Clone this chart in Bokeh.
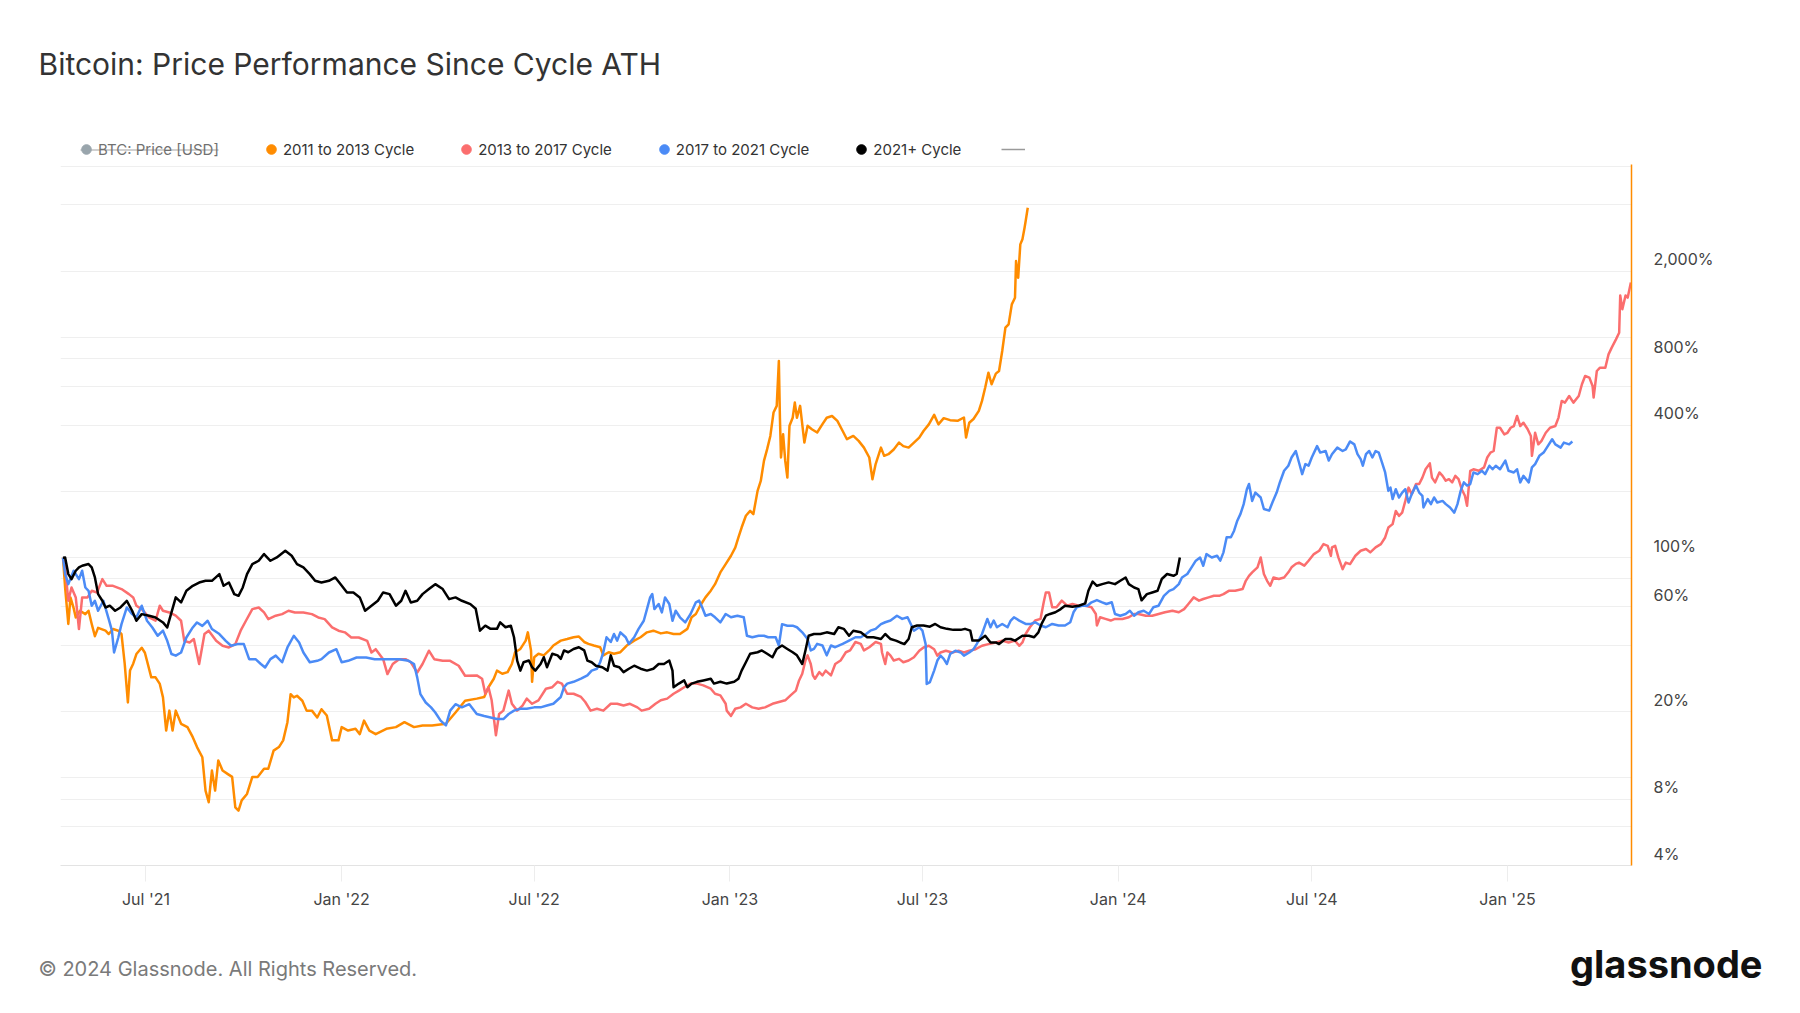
import datetime as dt
from bokeh.plotting import figure
from bokeh.layouts import column
from bokeh.models import (Range1d, FixedTicker, CustomJSTickFormatter, DatetimeTickFormatter,
                          Legend, LegendItem)
from bokeh.core.properties import value
from bokeh.embed import file_html
from bokeh.resources import INLINE

# ---------------- data ----------------
ATH_DATE = dt.datetime(2021, 4, 14)   # start of the 2021+ cycle; x axis = days since each cycle's ATH

orange_days = [0, 2, 5, 7, 10, 12, 16, 21, 24, 27, 30, 33, 40, 43, 47, 52, 55, 58, 61, 63, 66, 69, 74, 77, 83, 87, 91, 94, 97, 100, 103, 106, 111, 117, 122, 126, 131, 134, 137, 140, 143, 146, 150, 155, 159, 162, 165, 168, 173, 178, 183, 189, 193, 198, 203, 207, 211, 214, 217, 220, 225, 229, 234, 239, 243, 248, 253, 259, 262, 268, 275, 279, 283, 288, 294, 304, 313, 321, 330, 338, 347, 360, 369, 378, 389, 396, 400, 405, 408, 413, 418, 422, 425, 430, 435, 437, 440, 441, 443, 447, 452, 457, 461, 468, 474, 480, 485, 490, 494, 499, 505, 508, 513, 518, 524, 530, 537, 543, 549, 555, 562, 568, 574, 580, 587, 591, 595, 599, 604, 609, 613, 618, 623, 628, 632, 635, 638, 642, 646, 649, 653, 656, 659, 662, 665, 668, 671, 673, 674, 675, 677, 679, 681, 683, 686, 688, 690, 693, 697, 700, 704, 709, 714, 718, 723, 728, 733, 737, 743, 748, 753, 758, 761, 764, 769, 772, 776, 781, 786, 790, 795, 800, 805, 809, 814, 819, 823, 828, 834, 841, 847, 849, 852, 856, 861, 864, 867, 870, 873, 877, 880, 883, 886, 889, 892, 895, 896, 898, 900, 902, 904, 905, 907]
orange_pct = [100, 73, 50, 66, 59, 53.5, 57.4, 55.4, 57.4, 50, 44, 48, 46.6, 45, 47.4, 46.6, 45, 33, 22, 30.7, 33, 36.5, 39, 37, 28.6, 28.6, 26.7, 23.2, 16.4, 20.2, 16.4, 20.2, 17.6, 17, 15.3, 13.8, 12.4, 8.75, 7.75, 10.8, 8.75, 12, 10.8, 10.4, 10.1, 7.35, 7.1, 7.9, 8.45, 10.1, 10.1, 11, 11, 13.3, 13.8, 14.8, 17.9, 24, 23.2, 23.6, 22.4, 20.2, 20.2, 18.8, 20.5, 19.2, 14.8, 14.8, 17, 16.4, 16.7, 15.8, 18.2, 16.4, 15.8, 16.7, 17, 17.9, 17, 17.3, 17.3, 17.6, 19.8, 22.4, 22.9, 23.3, 25.8, 28.2, 30.7, 29.7, 30.2, 32.9, 37.2, 38.5, 42, 45.8, 37.9, 27.3, 35.3, 36.6, 36, 37.9, 39.9, 42, 42.7, 43.5, 43.8, 41.4, 40.6, 39.9, 39.2, 36, 37.2, 36.6, 37.2, 39.9, 42, 43.5, 45.8, 46.6, 45.3, 45.8, 45, 45, 47.5, 53.6, 55.5, 60.5, 66, 70.8, 75.8, 85.7, 93.5, 102, 111, 123.5, 137, 155, 163, 157.5, 201, 223, 275, 311, 357, 456, 489, 782, 432, 285, 363, 275, 231, 397, 432, 506, 432, 489, 333, 397, 383, 370, 404, 432, 440, 418, 376, 345, 357, 339, 316, 285, 227, 266, 316, 290, 295, 310, 333, 321, 316, 333, 351, 376, 403, 445, 403, 430, 421, 418, 433, 351, 410, 426, 464, 515, 592, 692, 613, 685, 704, 868, 1108, 1147, 1413, 1515, 2223, 1867, 2646, 2790, 3150, 3370, 3880]

red_days = [0, 2, 5, 8, 12, 15, 18, 23, 27, 32, 37, 41, 47, 55, 62, 66, 69, 74, 81, 87, 91, 94, 100, 106, 111, 114, 119, 123, 128, 133, 137, 144, 150, 156, 162, 167, 172, 178, 184, 189, 193, 200, 206, 212, 218, 226, 234, 240, 246, 253, 259, 265, 271, 278, 286, 290, 294, 301, 305, 310, 316, 322, 327, 333, 338, 344, 349, 357, 364, 372, 378, 389, 394, 397, 400, 403, 405, 407, 410, 414, 419, 422, 427, 432, 436, 441, 447, 454, 460, 465, 469, 474, 480, 487, 491, 496, 502, 508, 515, 521, 527, 533, 540, 544, 551, 557, 562, 568, 574, 579, 584, 590, 596, 602, 609, 613, 618, 623, 624, 628, 632, 637, 642, 648, 654, 660, 667, 673, 679, 684, 689, 692, 695, 698, 700, 703, 705, 707, 711, 714, 717, 722, 726, 731, 736, 740, 745, 750, 753, 758, 764, 769, 770, 773, 775, 778, 781, 786, 790, 795, 800, 805, 809, 814, 819, 822, 825, 830, 836, 842, 847, 852, 858, 864, 870, 877, 883, 889, 895, 899, 902, 905, 909, 914, 919, 922, 924, 927, 930, 934, 939, 944, 949, 955, 961, 967, 971, 972, 975, 980, 985, 989, 996, 1002, 1007, 1011, 1018, 1024, 1030, 1036, 1043, 1049, 1054, 1058, 1063, 1068, 1072, 1077, 1082, 1087, 1091, 1096, 1102, 1109, 1112, 1115, 1118, 1123, 1126, 1129, 1132, 1135, 1138, 1143, 1148, 1152, 1155, 1159, 1162, 1167, 1171, 1176, 1181, 1185, 1189, 1192, 1193, 1196, 1199, 1203, 1206, 1210, 1215, 1220, 1225, 1229, 1234, 1239, 1243, 1246, 1250, 1253, 1256, 1259, 1262, 1265, 1268, 1272, 1275, 1278, 1281, 1285, 1287, 1290, 1294, 1297, 1300, 1303, 1306, 1309, 1312, 1315, 1318, 1320, 1323, 1326, 1331, 1336, 1339, 1342, 1345, 1348, 1351, 1355, 1358, 1361, 1364, 1367, 1370, 1373, 1377, 1380, 1381, 1384, 1387, 1390, 1394, 1398, 1403, 1406, 1409, 1412, 1416, 1420, 1425, 1428, 1431, 1435, 1438, 1439, 1442, 1445, 1450, 1453, 1456, 1460, 1463, 1464, 1466, 1469, 1471, 1474]
red_pct = [100, 90.3, 63.7, 73.2, 66, 47.4, 66, 66, 70.7, 69.5, 79.9, 74.5, 74.5, 72, 68.3, 66, 60.5, 58.4, 53.5, 51.7, 60.5, 57.4, 56.4, 54.5, 51.7, 41.9, 41.2, 42.7, 32.9, 45, 46.6, 41.9, 39.8, 39.1, 40.5, 46.6, 51.7, 58.4, 59.4, 56.4, 52.6, 54.5, 55.4, 57.4, 56.4, 56.4, 55.4, 53.5, 52.6, 48.2, 46.6, 45.8, 43.4, 43.4, 41.9, 37.1, 38.4, 34.6, 29.6, 32.9, 34.6, 34.6, 33.5, 30.1, 32.9, 37.8, 34.6, 34, 34, 32.3, 29.1, 29.2, 28.2, 24.1, 25.8, 22.5, 18.8, 15.6, 19.5, 20.2, 24.9, 21.7, 20.2, 21.3, 22.9, 21.7, 22.5, 25.4, 25.8, 27.3, 26.8, 24.1, 24.1, 23.3, 22.1, 20.2, 20.6, 20.2, 21.7, 21.7, 21.3, 21.7, 20.9, 20.2, 20.6, 21.7, 22.5, 22.9, 24.1, 24.9, 25.8, 26.8, 26.8, 26.3, 25.4, 24.1, 23.7, 21.7, 20.2, 19.1, 20.6, 20.9, 21.7, 20.9, 20.6, 20.9, 21.7, 22.1, 22.5, 23.7, 24.9, 27.7, 29.7, 34.1, 36, 32.9, 29.2, 28.2, 30.2, 29.2, 30.7, 29.2, 32.9, 34.1, 37.2, 37.9, 41.4, 40.6, 37.9, 39.2, 41.4, 40.6, 37.1, 32.9, 37.1, 35.9, 34.1, 34.7, 33.5, 34.1, 35.3, 37.8, 39.1, 39.8, 38.4, 35.9, 37.1, 37.8, 37.1, 37.8, 37.1, 37.8, 38.4, 39.8, 40.5, 41.2, 42, 41.2, 42, 39.8, 41.2, 45, 48.3, 51.8, 52.7, 62.7, 69.5, 69.5, 59.5, 59.5, 63.8, 60.5, 61.6, 60.5, 60.5, 59.5, 55.5, 49.2, 53.6, 52.7, 51.8, 52.7, 52.7, 53.6, 55.5, 55.5, 54.5, 54.5, 55.5, 56.5, 57.4, 56.5, 58.4, 61.6, 66, 63.8, 64.9, 66, 67.1, 67.1, 68.3, 70.7, 70.7, 72, 78.5, 82.7, 85.8, 90.4, 100.2, 84.3, 78.5, 74.5, 81.3, 80, 81.3, 85.8, 90.4, 93.7, 95, 92, 96.8, 103.8, 107.5, 115.2, 113.2, 102, 111.3, 113.2, 100.3, 88.7, 95, 93.5, 102, 107.5, 109.4, 105.7, 111.3, 115.2, 123.5, 137, 142, 163, 154.7, 160.2, 181, 208, 194.2, 216, 216, 231, 252, 268, 231, 219.7, 243.7, 235.2, 223.5, 227.2, 219.7, 235.2, 227.2, 204.5, 191, 172, 248, 252, 248, 257, 285, 300, 305, 389, 389, 363, 369, 389, 396, 440, 396, 410, 383, 357, 290, 369, 327, 339, 369, 389, 396, 432.5, 515, 506, 542, 506, 542, 613, 668, 657, 602, 533, 704, 729, 729, 838, 899, 980, 1050, 1551, 1344, 1551, 1516, 1777]

blue_days = [0, 2, 5, 10, 15, 18, 21, 24, 27, 30, 33, 38, 43, 46, 48, 52, 55, 60, 65, 69, 74, 79, 84, 89, 94, 98, 102, 106, 111, 116, 122, 126, 131, 136, 140, 147, 153, 158, 164, 170, 175, 181, 186, 190, 195, 200, 206, 211, 217, 222, 226, 232, 239, 243, 250, 257, 262, 268, 276, 285, 293, 299, 307, 316, 325, 330, 333, 336, 341, 346, 350, 355, 360, 364, 369, 375, 382, 389, 396, 402, 408, 414, 419, 424, 430, 436, 443, 449, 455, 461, 468, 471, 474, 480, 487, 493, 497, 502, 505, 508, 511, 515, 518, 521, 524, 529, 532, 537, 541, 546, 549, 552, 554, 556, 560, 563, 566, 570, 573, 576, 580, 585, 590, 595, 598, 601, 604, 609, 613, 618, 623, 628, 634, 640, 643, 648, 654, 659, 663, 670, 673, 676, 681, 686, 690, 695, 700, 703, 706, 709, 714, 718, 722, 726, 733, 739, 745, 750, 755, 759, 764, 769, 773, 778, 784, 789, 794, 797, 800, 805, 808, 811, 812, 815, 819, 822, 825, 828, 831, 834, 839, 844, 847, 852, 856, 859, 864, 869, 872, 875, 878, 883, 888, 891, 894, 899, 905, 910, 914, 919, 924, 930, 936, 942, 947, 950, 953, 958, 963, 967, 972, 977, 981, 986, 989, 994, 999, 1003, 1007, 1011, 1016, 1021, 1025, 1030, 1035, 1040, 1044, 1049, 1052, 1057, 1061, 1065, 1069, 1072, 1075, 1080, 1085, 1088, 1091, 1094, 1098, 1101, 1104, 1107, 1110, 1113, 1115, 1118, 1121, 1126, 1129, 1134, 1137, 1141, 1144, 1148, 1152, 1155, 1159, 1162, 1165, 1168, 1171, 1174, 1179, 1182, 1187, 1190, 1193, 1198, 1203, 1206, 1210, 1214, 1217, 1220, 1222, 1225, 1228, 1231, 1234, 1237, 1240, 1243, 1246, 1248, 1250, 1253, 1256, 1259, 1262, 1265, 1268, 1272, 1275, 1278, 1279, 1283, 1286, 1289, 1292, 1297, 1300, 1304, 1308, 1311, 1314, 1317, 1320, 1323, 1326, 1330, 1334, 1337, 1341, 1344, 1347, 1351, 1356, 1359, 1364, 1367, 1370, 1373, 1378, 1381, 1384, 1388, 1392, 1395, 1400, 1403, 1408, 1411, 1416, 1419]
blue_pct = [100, 84.2, 75.8, 87.2, 79.9, 87.2, 73.2, 70.7, 60.5, 63.7, 57.4, 63.7, 52.6, 46.6, 37.1, 43.4, 49.9, 59.4, 55.4, 53.5, 60.5, 51.7, 48.2, 44.2, 46.6, 41.9, 36.5, 35.9, 37.1, 43.4, 48.2, 50.8, 49, 51.7, 47.4, 45, 41.9, 39.8, 40.5, 40.5, 34.6, 34.6, 32.9, 31.7, 34.6, 35.9, 33.5, 39.1, 44.2, 41.2, 37.1, 33.5, 34, 34.6, 37.1, 38.4, 33.5, 34, 35.2, 35.2, 34.6, 34.6, 34.6, 34.6, 34, 32.9, 28.6, 24, 22, 20.9, 19.8, 18.2, 17.3, 20.2, 21.6, 20.9, 21.6, 19.5, 19.1, 18.8, 18.5, 18.5, 19.5, 20.2, 20.6, 20.6, 20.9, 20.9, 21.3, 21.7, 23.3, 25.8, 26.8, 27.3, 28.2, 29.2, 30.7, 31.3, 33.5, 37.2, 43.5, 41.4, 45, 42, 45.8, 43.5, 40.6, 43.5, 47.4, 51.7, 58.4, 66, 68.4, 58.4, 61.6, 56.4, 66, 61.6, 51.7, 57.4, 53.6, 50.8, 55.5, 62.7, 63.8, 59.4, 54.5, 55.5, 53.6, 50.8, 55.5, 53.6, 54.5, 53.6, 44.2, 43.5, 44.2, 44.2, 43.5, 43.5, 39.9, 49.9, 49.1, 49.1, 48.3, 45.8, 42.7, 37.9, 38.5, 40.6, 39.9, 36, 39.9, 39.2, 40.6, 42, 43.5, 43.5, 45, 46.6, 47.5, 49.9, 50.9, 51.8, 54.5, 52.7, 53.6, 50, 46.6, 48.3, 46.6, 40.5, 26.7, 27.2, 30.7, 34.1, 35.9, 34.7, 32.9, 36.5, 37.8, 37.1, 35.9, 37.1, 38.4, 40.5, 45, 52.7, 48.3, 51.8, 48.3, 50, 48.3, 51.8, 53.6, 51.8, 50, 50, 50.9, 49.2, 48.3, 50, 49.2, 49.2, 50.9, 56.5, 59.5, 60.5, 60.5, 62.7, 64.2, 62.7, 61.6, 62.7, 55.5, 54.5, 55.5, 57.4, 54.5, 56.5, 57.4, 55.5, 59.5, 60.5, 67.1, 70.7, 72, 75.8, 81.3, 84.3, 90.4, 96.9, 100.2, 91.9, 103.8, 100.2, 102, 96.9, 105.7, 123.8, 123.8, 132.5, 147.2, 158, 175, 204.5, 216, 181, 197.5, 187.5, 166.3, 163.5, 178, 197.5, 219.5, 248, 261.5, 285, 305, 270.5, 239.5, 266, 261.5, 285, 321, 300, 305, 276, 295, 316, 305, 310.5, 337, 327, 295, 280, 261.5, 295, 305, 285, 305, 300, 270.5, 243.7, 201, 208, 184.6, 204.5, 187.6, 197.5, 204.5, 178, 194.2, 212.5, 197.5, 191, 169, 184.6, 175, 187.6, 178, 181, 175, 169, 160.2, 175, 201, 219.7, 212.5, 216, 243.7, 239.5, 248, 239.5, 261.5, 252, 261.5, 252, 276, 248, 243.7, 252, 219.7, 235.2, 219.7, 257, 266, 290, 300, 316, 345, 327, 316, 333, 327, 337]

black_days = [0, 2, 5, 8, 12, 15, 18, 24, 27, 30, 33, 37, 40, 44, 49, 54, 60, 65, 69, 74, 81, 87, 94, 98, 102, 106, 111, 116, 122, 128, 134, 140, 147, 151, 156, 161, 165, 169, 173, 178, 184, 189, 195, 201, 209, 215, 220, 226, 232, 237, 243, 250, 256, 261, 267, 273, 279, 284, 290, 296, 301, 307, 313, 318, 322, 327, 333, 338, 344, 350, 357, 363, 369, 375, 383, 388, 392, 397, 402, 408, 411, 416, 421, 424, 427, 430, 433, 438, 441, 444, 449, 452, 455, 460, 465, 468, 471, 475, 480, 485, 490, 493, 497, 501, 507, 512, 515, 518, 523, 527, 532, 537, 543, 549, 555, 560, 565, 570, 573, 574, 579, 584, 587, 591, 596, 602, 609, 612, 618, 624, 631, 635, 638, 642, 646, 653, 657, 662, 667, 671, 676, 681, 686, 690, 695, 698, 701, 706, 712, 718, 725, 729, 734, 739, 743, 750, 756, 762, 769, 773, 778, 783, 787, 791, 795, 798, 803, 809, 815, 820, 825, 831, 837, 844, 848, 853, 855, 861, 867, 872, 877, 880, 886, 891, 895, 902, 908, 913, 917, 920, 924, 928, 933, 938, 942, 949, 955, 961, 964, 968, 972, 977, 983, 989, 994, 999, 1002, 1007, 1011, 1014, 1019, 1024, 1029, 1033, 1038, 1044, 1047, 1050]
black_pct = [100, 100.2, 84.2, 79.9, 87.2, 90.3, 91.9, 93.5, 90.3, 81.3, 68.3, 63.7, 59.4, 60.5, 57.4, 59.4, 63.7, 57.4, 51.7, 55.4, 54.5, 53.5, 50.8, 48.2, 56.4, 66, 62.6, 70.7, 74.5, 77.1, 78.5, 78.5, 84.2, 74.5, 77.1, 68.3, 67.1, 73.2, 84.2, 93.5, 96.8, 103.8, 96.8, 100.2, 107.5, 102, 93.5, 90.3, 84.2, 78.5, 77.1, 78.5, 81.3, 75.8, 69.5, 69.5, 66, 57.4, 60.5, 63.7, 69.5, 68.3, 60.5, 63.7, 70.7, 62.6, 63.7, 68.3, 72, 75.8, 72, 64.8, 66, 63.7, 61.5, 58.6, 46.6, 49.1, 47.5, 47.5, 50.8, 48.3, 49.1, 43.5, 34.1, 30.7, 33.5, 34.1, 31.8, 30.7, 32.9, 35.3, 31.8, 36.6, 36, 34.7, 37.9, 37.2, 38.5, 39.2, 37.9, 34.1, 33.5, 32.3, 31.8, 30.7, 36, 32.3, 31.8, 30.2, 31.3, 32.3, 31.3, 30.7, 31.3, 32.9, 32.9, 34.1, 30.7, 25.8, 26.8, 27.7, 25.8, 26.8, 27.3, 27.7, 28.2, 26.8, 27.3, 26.8, 27.3, 28.2, 30.7, 33.5, 36.6, 37.2, 37.9, 36.6, 35.3, 38.5, 39.9, 38.5, 37.2, 36, 32.9, 37.9, 44.2, 45, 45, 45.8, 45, 48.3, 47.5, 44.2, 46.6, 45.8, 43.5, 43.5, 42.7, 45, 42.7, 42, 41.2, 40.5, 42.7, 48.3, 49.2, 49.2, 48.6, 50, 48.3, 47.5, 47, 47, 47.5, 46.6, 42, 42, 44.2, 41.2, 41.2, 40.5, 42.7, 42.7, 42, 44.2, 44.2, 43.5, 45.8, 50, 54.5, 55.5, 56.5, 58.4, 60.5, 59.9, 60.5, 62, 70.7, 77.9, 74.5, 75.8, 77.2, 75.8, 78.5, 81.3, 75.8, 73.2, 72, 64, 68.3, 69.5, 70.7, 80, 84.3, 82.7, 84.3, 100.2]

x_tick_dates = ["2021-07-01", "2022-01-01", "2022-07-01", "2023-01-01",
                "2023-07-01", "2024-01-01", "2024-07-01", "2025-01-01"]
y_label_ticks = [4, 8, 20, 60, 100, 400, 800, 2000]
y_grid_ticks = [4, 6, 8, 10, 20, 40, 60, 80, 100, 200, 400, 600, 800, 1000, 2000, 4000, 6000]

series_names = ["2011 to 2013 Cycle", "2013 to 2017 Cycle", "2017 to 2021 Cycle", "2021+ Cycle"]
series_colors = ["#FF8C00", "#FB6E6E", "#4B8BF6", "#000000"]

TITLE = "Bitcoin: Price Performance Since Cycle ATH"
HIDDEN_SERIES = "BTC: Price [USD]"
FOOTER = "© 2024 Glassnode. All Rights Reserved."
LOGO = "glassnode"

# ---------------- helpers ----------------
def to_dates(days):
    return [ATH_DATE + dt.timedelta(days=d) for d in days]

EPOCH = dt.datetime(1970, 1, 1)
def to_ms(s):
    return (dt.datetime.strptime(s, "%Y-%m-%d") - EPOCH).total_seconds() * 1000.0

FONT = "Inter"
W = 1800
FRAME_L, FRAME_R = 60, 1631
HEAD_H, MAIN_H = 162, 760
FOOT_H = 1013 - HEAD_H - MAIN_H
OFF = -1.0e5   # coordinate of invisible legend-proxy points


def blank_fig(h):
    # full-width frame (not aligned with the chart frame) -> data units are page pixels
    f = figure(width=W, height=h, output_backend="svg", toolbar_location=None,
               x_range=Range1d(0, W), y_range=Range1d(h, 0),
               x_axis_location=None, y_axis_location=None, frame_align=False,
               min_border_left=0, min_border_right=0,
               min_border_top=0, min_border_bottom=0)
    f.grid.visible = False
    f.outline_line_color = None
    f.background_fill_color = "white"
    f.border_fill_color = "white"
    f.title.visible = False
    return f

# ---------------- header: title + legend ----------------
head = blank_fig(HEAD_H)
head.text(x=[38], y=[63], text=[TITLE], text_font=value(FONT), text_font_size=value("30px"),
          text_color="#333333", text_baseline="middle", text_align="left")

btc_dot = head.scatter(x=[OFF], y=[OFF], size=10, fill_color="#6E7F89", line_color="#6E7F89",
                       visible=False)
dots = [head.scatter(x=[OFF], y=[OFF], size=10, fill_color=c, line_color=c) for c in series_colors]
extra = head.line(x=[OFF, OFF + 1], y=[OFF, OFF], line_color="#9A9A9A", line_width=1.5)

items = [LegendItem(label=value(HIDDEN_SERIES), renderers=[btc_dot])]
items += [LegendItem(label=value(n), renderers=[d]) for n, d in zip(series_names, dots)]
items.append(LegendItem(label=value(""), renderers=[extra]))

legend = Legend(items=items, orientation="horizontal", location=(74, 1),
                glyph_width=24, glyph_height=24, label_standoff=0, spacing=40,
                padding=0, margin=0, label_text_font=FONT, label_text_font_size="15px",
                label_text_color="#333333", background_fill_alpha=0, border_line_alpha=0,
                click_policy="hide", inactive_fill_color="white", inactive_fill_alpha=0.3)
head.add_layout(legend, "center")
# strike-through over the hidden series' legend entry
head.segment(x0=[80], y0=[149.5], x1=[218], y1=[149.5], line_color="#7A7A7A", line_width=1.2,
             level="overlay")

# ---------------- main chart ----------------
p = figure(width=W, height=MAIN_H, output_backend="svg", toolbar_location=None,
           x_axis_type="datetime", y_axis_type="log", y_axis_location="right",
           x_range=Range1d(ATH_DATE - dt.timedelta(days=2.35), ATH_DATE + dt.timedelta(days=1474.6)),
           y_range=Range1d(4, 6100),
           min_border_left=FRAME_L, min_border_right=W - FRAME_R, min_border_top=2,
           min_border_bottom=MAIN_H - 2 - 701)
p.title.visible = False
p.outline_line_color = None
p.background_fill_color = "white"
p.border_fill_color = "white"

p.xgrid.visible = False
p.ygrid.ticker = FixedTicker(ticks=y_grid_ticks)
p.ygrid.grid_line_color = "#EFEFEF"
p.ygrid.grid_line_width = 1

p.yaxis.ticker = FixedTicker(ticks=y_label_ticks)
# labels sit just above their grid line (second, empty line lifts the text)
p.yaxis.formatter = CustomJSTickFormatter(code="return tick.toLocaleString('en-US') + '%\\n';")
p.yaxis.axis_line_color = "#FF8C00"
p.yaxis.axis_line_width = 1.5
p.yaxis.major_tick_in = 0
p.yaxis.major_tick_out = 0
p.yaxis.major_tick_line_color = None
p.yaxis.minor_tick_line_color = None
p.yaxis.major_label_standoff = 22
p.yaxis.major_label_text_font = FONT
p.yaxis.major_label_text_font_size = "16px"
p.yaxis.major_label_text_color = "#444444"

p.xaxis.ticker = FixedTicker(ticks=[to_ms(s) for s in x_tick_dates])
fmt = "%b '%y"
p.xaxis.formatter = DatetimeTickFormatter(milliseconds=fmt, seconds=fmt, minsec=fmt, minutes=fmt,
                                          hourmin=fmt, hours=fmt, days=fmt, months=fmt, years=fmt)
p.xaxis.axis_line_color = "#E3E3E3"
p.xaxis.major_tick_line_color = "#EDEDED"
p.xaxis.major_tick_in = 0
p.xaxis.major_tick_out = 16
p.xaxis.minor_tick_line_color = None
p.xaxis.major_label_standoff = 7
p.xaxis.major_label_text_font = FONT
p.xaxis.major_label_text_font_size = "16px"
p.xaxis.major_label_text_color = "#444444"

all_days = [orange_days, red_days, blue_days, black_days]
all_pct = [orange_pct, red_pct, blue_pct, black_pct]
for days, pct, col in zip(all_days, all_pct, series_colors):
    p.line(to_dates(days), pct, line_color=col, line_width=2.5, line_join="round")

# ---------------- footer ----------------
foot = blank_fig(FOOT_H)
base = HEAD_H + MAIN_H
foot.text(x=[38], y=[968 - base], text=[FOOTER], text_font=value(FONT), text_font_size=value("20px"),
          text_color="#7A7A7A", text_baseline="middle", text_align="left")
foot.text(x=[1762], y=[963 - base], text=[LOGO], text_font=value(FONT), text_font_size=value("38px"),
          text_font_style="bold", text_color="#111111", text_baseline="middle", text_align="right")

layout = column(head, p, foot, spacing=0)
open("out.html", "w").write(file_html(layout, INLINE))
